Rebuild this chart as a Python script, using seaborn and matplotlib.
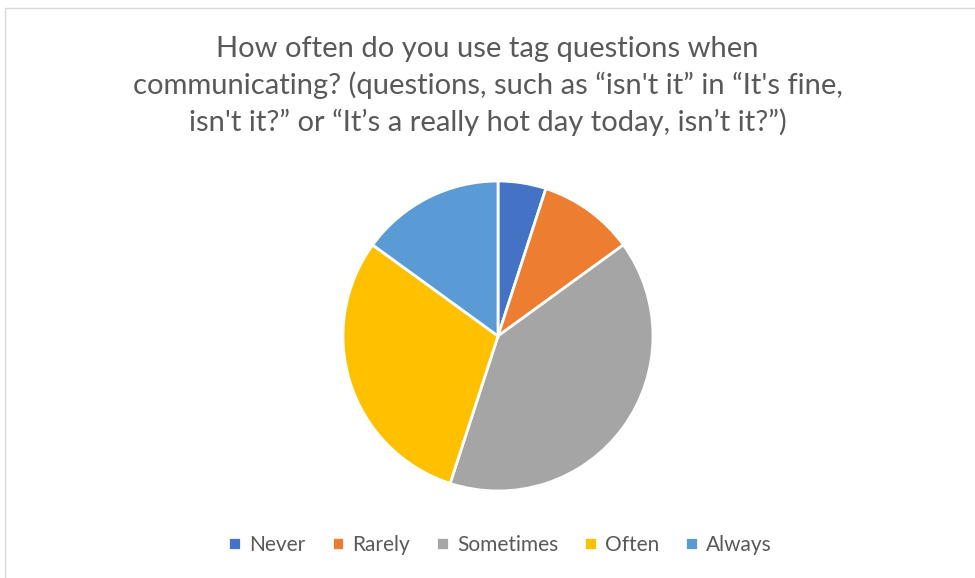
import matplotlib
matplotlib.use("Agg")
import matplotlib.pyplot as plt
import seaborn as sns
from matplotlib.patches import Rectangle

labels = ["Never", "Rarely", "Sometimes", "Often", "Always"]
values = [5, 10, 40, 30, 15]
colors = ["#4472C4", "#ED7D31", "#A5A5A5", "#FFC000", "#5B9BD5"]
title = ("How often do you use tag questions when\n"
         "communicating? (questions, such as \u201cisn't it\u201d in \u201cIt's fine,\n"
         "isn't it?\u201d or \u201cIt\u2019s a really hot day today, isn\u2019t it?\u201d)")

sns.set_theme(style="white")
plt.rcParams['font.family'] = ['Lato', 'DejaVu Sans']
text_color = "#595959"

W, H = 975, 578
fig = plt.figure(figsize=(W / 100, H / 100), dpi=100)

# chart border
fig.patches.append(Rectangle((5 / W, -0.01), 1.0, 1 - 8 / H + 0.01, transform=fig.transFigure,
                             fill=False, edgecolor="#D9D9D9", linewidth=1))

# pie axes placed in pixels
cx, cy, r = 498, 336, 155
half = 162
ax = fig.add_axes([(cx - half) / W, (H - cy - half) / H, 2 * half / W, 2 * half / H])
wedges, _ = ax.pie(values, colors=colors, startangle=90, counterclock=False,
                   wedgeprops=dict(edgecolor="white", linewidth=2))
lim = half / r
ax.set_xlim(-lim, lim)
ax.set_ylim(-lim, lim)
ax.set_aspect("equal")
ax.axis("off")

fig.text(0.5, 1 - 86 / H, title, ha="center", va="center", fontsize=21,
         color=text_color, linespacing=1.42)

fig.legend(wedges, labels, loc="center", bbox_to_anchor=(0.513, 1 - 545 / H), ncol=5,
           frameon=False, fontsize=15, labelcolor=text_color, handlelength=0.6,
           handleheight=0.6, handletextpad=0.4, columnspacing=1.25)

fig.savefig("out.png", dpi=100)
